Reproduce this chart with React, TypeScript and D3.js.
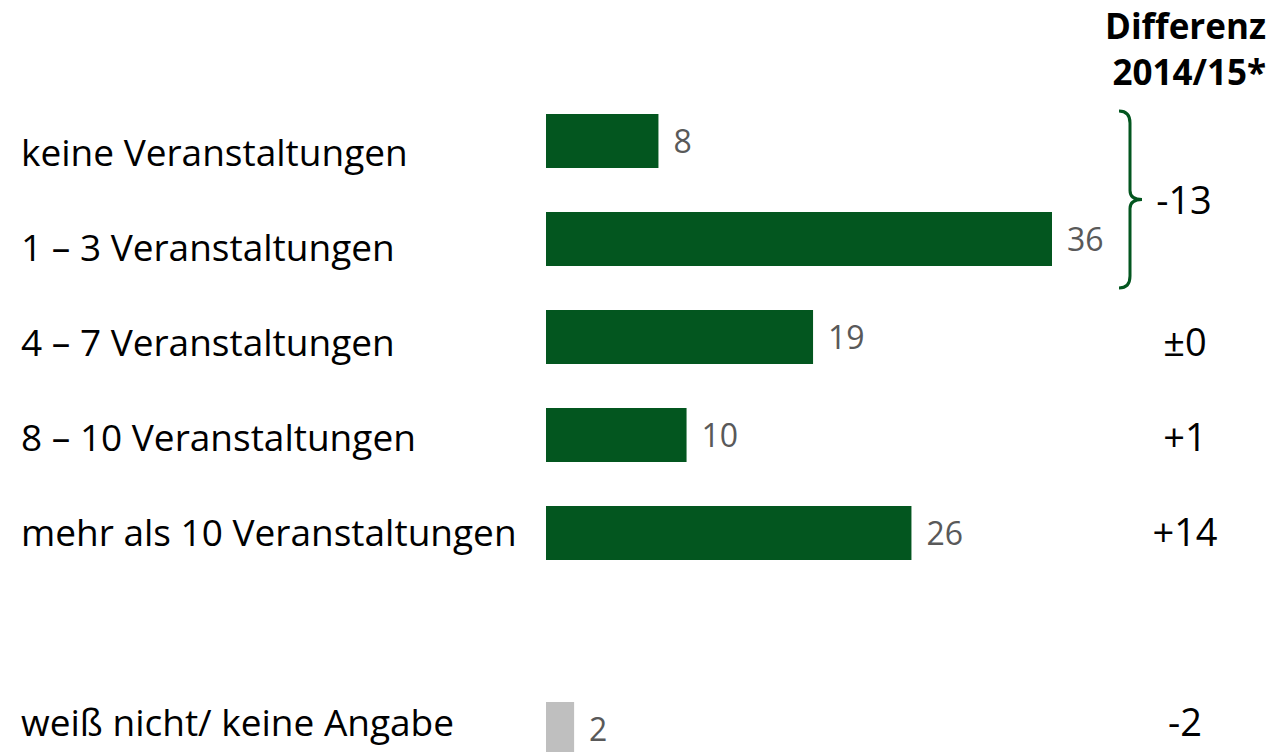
import React from "react";
import * as d3 from "d3";

const categories = [
  "keine Veranstaltungen",
  "1 – 3 Veranstaltungen",
  "4 – 7 Veranstaltungen",
  "8 – 10 Veranstaltungen",
  "mehr als 10 Veranstaltungen",
  "",
  "weiß nicht/ keine Angabe",
];
const values = [8, 36, 19, 10, 26, null, 2];
const diffs = ["", "", "±0", "+1", "+14", "", "-2"];
const groupedDiff = "-13";
const header = ["Differenz", "2014/15*"];

const GREEN = "#03561F";
const GRAY = "#BFBFBF";
const FONT = "'Open Sans', 'Noto Sans', sans-serif";

export default function App() {
  const W = 1271;
  const H = 752;
  const x = d3.scaleLinear().domain([0, 36]).range([546, 1052]);
  const y = d3
    .scaleBand<number>()
    .domain(d3.range(categories.length))
    .range([114 - 22, 114 - 22 + 98 * categories.length])
    .paddingInner(44 / 98)
    .paddingOuter(22 / 98);
  const bh = y.bandwidth();
  // text baselines sit on their own slightly tighter grid
  const yText = d3.scaleLinear().domain([0, 1]).range([166, 261]);

  const y0 = 111;
  const y1 = 288;
  const ym = (y0 + y1) / 2;
  const bx = 1119;
  const vx = 1130;
  const tx = 1142;
  const braceD = `M${bx},${y0} Q${vx},${y0} ${vx},${y0 + 12} L${vx},${ym - 9} Q${vx},${ym} ${tx},${ym} Q${vx},${ym} ${vx},${ym + 9} L${vx},${y1 - 12} Q${vx},${y1} ${bx},${y1}`;

  return (
    <svg width={W} height={H} style={{ position: "absolute", left: 0, top: 0, background: "#fff" }} fontFamily={FONT}>
      <text x={1266} y={39} textAnchor="end" fontSize={35} fontWeight="bold" fill="#000">
        {header[0]}
      </text>
      <text x={1266} y={85} textAnchor="end" fontSize={35} fontWeight="bold" fill="#000">
        {header[1]}
      </text>
      {categories.map((c, i) => {
        const v = values[i];
        const yy = y(i)!;
        return (
          <g key={i}>
            {c && (
              <text x={21} y={yText(i)} fontSize={37} fill="#000">
                {c}
              </text>
            )}
            {v != null && (
              <>
                <rect x={x(0)} y={yy} width={x(v) - x(0)} height={bh} fill={i === 6 ? GRAY : GREEN} />
                <text x={x(v) + 15} y={yy + bh / 2 + 12} fontSize={32} fill="#595959">
                  {v}
                </text>
              </>
            )}
            {diffs[i] && (
              <text x={1185} y={yText(i)} textAnchor="middle" fontSize={38} fill="#000">
                {diffs[i]}
              </text>
            )}
          </g>
        );
      })}
      <path d={braceD} fill="none" stroke={GREEN} strokeWidth={3} />
      <text x={1184} y={yText(0.5)} textAnchor="middle" fontSize={38} fill="#000">
        {groupedDiff}
      </text>
    </svg>
  );
}
